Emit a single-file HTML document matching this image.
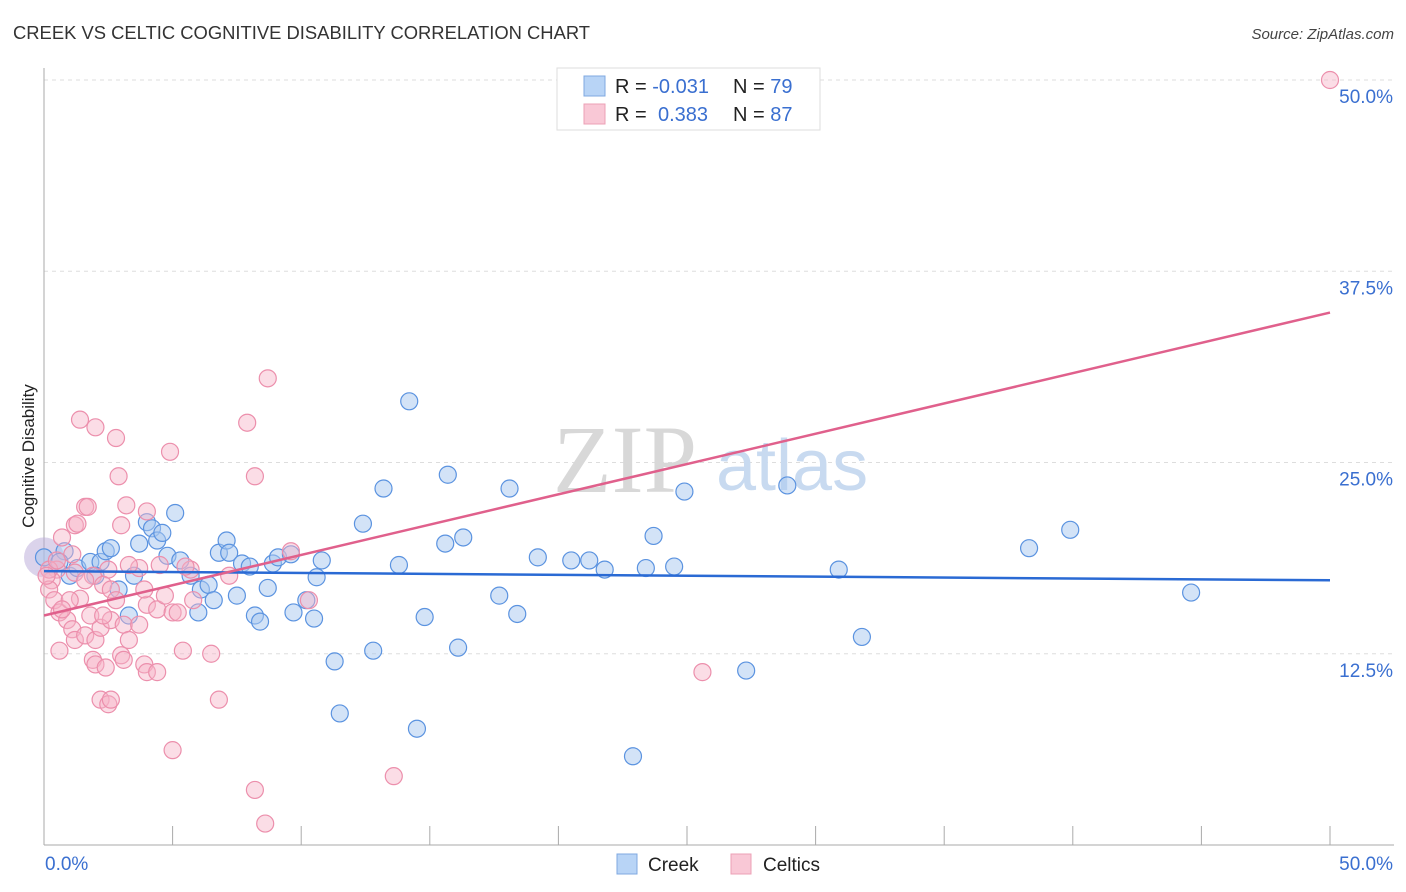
<!DOCTYPE html>
<html><head><meta charset="utf-8"><style>
body{margin:0;background:#fff;font-family:"Liberation Sans",sans-serif;}
svg{display:block}
</style></head><body>
<svg id="chart" width="1406" height="892">
<text x="13" y="39" font-size="18.4" fill="#333">CREEK VS CELTIC COGNITIVE DISABILITY CORRELATION CHART</text>
<text x="1394" y="39" font-size="15" fill="#444" font-style="italic" text-anchor="end">Source: ZipAtlas.com</text>
<text x="34" y="456" font-size="17" fill="#222" text-anchor="middle" transform="rotate(-90 34 456)">Cognitive Disability</text>
<g id="grid"></g>
<g id="axes"></g>
<text x="553" y="492" font-size="96" fill="#d8d8d8" font-family="Liberation Serif,serif">ZIP</text>
<text x="716" y="490" font-size="72" fill="#c8daf0">atlas</text>
<g id="pts"></g>
<g id="trends"></g>
<g>
<rect x="557" y="68" width="263" height="62" fill="#fff" stroke="#ddd"/>
<rect x="584" y="76" width="21" height="20" fill="#b8d4f6" stroke="#7fa8e0"/>
<rect x="584" y="104" width="21" height="20" fill="#f9c8d6" stroke="#eca0b6"/>
<text x="615" y="93" font-size="20" fill="#222">R = <tspan fill="#3a6fd0">-0.031</tspan><tspan x="733">N = </tspan><tspan fill="#3a6fd0">79</tspan></text>
<text x="615" y="121" font-size="20" fill="#222">R = <tspan x="658" fill="#3a6fd0">0.383</tspan><tspan x="733">N = </tspan><tspan fill="#3a6fd0">87</tspan></text>
</g>
<g>
<rect x="617" y="854" width="20" height="20" fill="#b8d4f6" stroke="#7fa8e0"/>
<text x="648" y="871" font-size="19" fill="#222">Creek</text>
<rect x="731" y="854" width="20" height="20" fill="#f9c8d6" stroke="#eca0b6"/>
<text x="763" y="871" font-size="19" fill="#222">Celtics</text>
</g>
</svg>
<script>
const yTicks=[12.5,25,37.5,50];
const yTickLabels=["12.5%","25.0%","37.5%","50.0%"];
const xTickLabels=["0.0%","50.0%"];
const creekX=[0.0,0.8,0.6,1.0,1.3,1.8,2.2,2.4,2.6,2.0,2.9,3.3,3.5,3.7,4.0,4.2,4.4,4.6,4.8,5.1,5.3,5.7,6.0,6.1,6.4,6.6,6.8,7.1,7.2,7.5,7.7,8.0,8.2,8.4,8.7,8.9,9.1,9.6,9.7,10.2,10.5,10.6,10.8,11.3,11.5,12.4,12.8,13.2,13.8,14.2,14.5,14.8,15.6,15.7,16.1,16.3,17.7,18.1,18.4,19.2,20.5,21.2,21.8,22.9,23.4,23.7,24.5,24.9,27.3,28.9,30.9,31.8,38.3,39.9,44.6];
const creekY=[18.8,19.2,18.5,17.6,18.1,18.5,18.5,19.2,19.4,17.6,16.7,15.0,17.6,19.7,21.1,20.7,19.9,20.4,18.9,21.7,18.6,17.6,15.2,16.7,17.0,16.0,19.1,19.9,19.1,16.3,18.4,18.2,15.0,14.6,16.8,18.4,18.8,19.0,15.2,16.0,14.8,17.5,18.6,12.0,8.6,21.0,12.7,23.3,18.3,29.0,7.6,14.9,19.7,24.2,12.9,20.1,16.3,23.3,15.1,18.8,18.6,18.6,18.0,5.8,18.1,20.2,18.2,23.1,11.4,23.5,18.0,13.6,19.4,20.6,16.5];
const celticX=[50.0,1.4,2.0,2.8,4.9,8.7,7.9,2.9,8.2,1.6,1.7,1.2,1.3,3.2,4.0,3.0,4.5,0.7,1.1,0.5,0.3,0.2,0.4,0.6,0.9,1.1,0.6,1.2,1.6,2.0,2.2,2.6,3.1,3.3,1.9,2.0,2.4,3.0,3.1,3.9,4.0,4.4,2.2,2.5,2.6,6.8,5.0,8.2,8.6,13.6,25.6,5.4,6.5,4.0,4.4,5.0,5.2,5.7,5.5,3.9,3.7,3.3,2.5,1.9,2.3,2.6,2.8,1.4,1.0,0.7,1.8,2.3,0.2,0.5,1.2,9.6,10.3,5.8,4.7,7.2,0.1,1.6,3.7];
const celticY=[50.0,27.8,27.3,26.6,25.7,30.5,27.6,24.1,24.1,22.1,22.1,20.9,21.0,22.2,21.8,20.9,18.3,20.1,19.0,18.0,17.3,16.7,16.0,15.2,14.7,14.1,12.7,13.4,13.7,13.4,14.2,14.7,14.4,13.4,12.1,11.8,11.6,12.4,12.1,11.8,11.3,11.3,9.5,9.2,9.5,9.5,6.2,3.6,1.4,4.5,11.3,12.7,12.5,15.7,15.4,15.2,15.2,18.0,18.2,16.7,18.1,18.3,18.0,17.6,17.0,16.7,16.0,16.1,16.0,15.4,15.0,15.0,18.0,18.6,17.8,19.2,16.0,16.0,16.3,17.6,17.6,17.3,14.4];
const creekTrend=[17.9,17.3];
const celticTrend=[15.0,34.8];
const trendX=[0,50];

const X0=44,X1=1330,Y0=845,Y50=80;
const sx=v=>X0+(X1-X0)*v/50;
const sy=v=>Y0-(Y0-Y50)*v/50;
const NS="http://www.w3.org/2000/svg";
function mk(tag,attrs,parent){const e=document.createElementNS(NS,tag);for(const k in attrs)e.setAttribute(k,attrs[k]);parent.appendChild(e);return e;}
const grid=document.getElementById('grid'),axes=document.getElementById('axes');
yTicks.forEach((t,i)=>{
  const g=mk('line',{x1:X0,x2:1394,y1:sy(t),y2:sy(t),stroke:'#ddd','stroke-dasharray':'4,4'},grid);
  
  
  const l=mk('text',{x:1393,y:sy(t)+23,'font-size':19,fill:'#3a6fd0','text-anchor':'end'},axes);
  l.textContent=yTickLabels[i];
  
  
});
const ax=mk('line',{x1:X0,x2:X0,y1:68,y2:Y0,stroke:'#aaa'},axes);


const bx=mk('line',{x1:X0,x2:1394,y1:Y0,y2:Y0,stroke:'#aaa'},axes);


for(let i=0;i<=10;i++){
  const t=mk('line',{x1:sx(i*5),x2:sx(i*5),y1:826,y2:Y0,stroke:'#aaa'},axes);
  
  
}
[[0,'start',45],[50,'end',1393]].forEach((a,i)=>{
  const l=mk('text',{x:a[2],y:870,'font-size':19,fill:'#3a6fd0','text-anchor':a[1]},axes);
  l.textContent=xTickLabels[i];
  
  
});
const pts=document.getElementById('pts');
const big=mk('circle',{cx:sx(creekX[0]),cy:sy(creekY[0]),r:20,fill:'#b7a8d8','fill-opacity':0.5,stroke:'none'},pts);


creekX.forEach((x,i)=>{
  const c=mk('circle',{cx:sx(x),cy:sy(creekY[i]),r:8.5,fill:'#a8c8f0','fill-opacity':0.5,stroke:'#5b93e0','stroke-width':1.2},pts);
  
  
});
celticX.forEach((x,i)=>{
  const c=mk('circle',{cx:sx(x),cy:sy(celticY[i]),r:8.5,fill:'#f6b4c8','fill-opacity':0.45,stroke:'#ec8fac','stroke-width':1.2},pts);
  
  
});
const tr=document.getElementById('trends');
const l1=mk('line',{x1:sx(trendX[0]),y1:sy(creekTrend[0]),x2:sx(trendX[1]),y2:sy(creekTrend[1]),stroke:'#2a6ad4','stroke-width':2.5},tr);


const l2=mk('line',{x1:sx(trendX[0]),y1:sy(celticTrend[0]),x2:sx(trendX[1]),y2:sy(celticTrend[1]),stroke:'#e0608c','stroke-width':2.5},tr);


</script>
</body></html>
